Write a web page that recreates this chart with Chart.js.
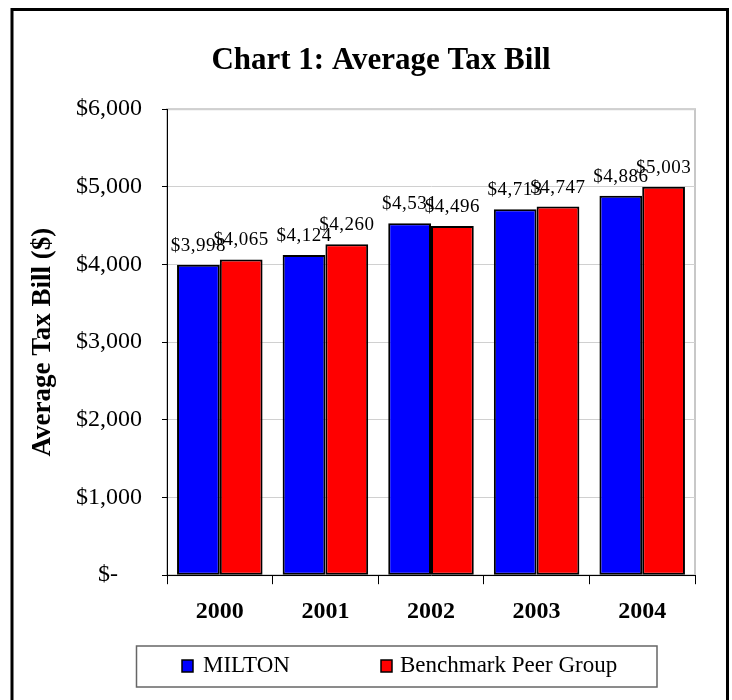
<!DOCTYPE html>
<html>
<head>
<meta charset="utf-8">
<script src="https://cdn.jsdelivr.net/npm/chart.js@4"></script>
<style>
  body { margin: 0; background: #fff; }
  #wrap { position: absolute; left: 0; top: 0; width: 732px; height: 700px; }
</style>
</head>
<body>
<div id="wrap"><canvas id="taxChart" width="732" height="700"></canvas></div>
<script>
const years = ['2000', '2001', '2002', '2003', '2004'];
const miltonValues = [3998, 4124, 4531, 4713, 4886];
const peerValues = [4065, 4260, 4496, 4747, 5003];
const yTicks = [0, 1000, 2000, 3000, 4000, 5000, 6000];

const serif = '"Liberation Serif", "Times New Roman", serif';

function money(v) {
  return '$' + v.toLocaleString('en-US');
}

// labels above every bar
const barLabels = {
  id: 'barLabels',
  afterDatasetsDraw(chart) {
    const ctx = chart.ctx;
    ctx.save();
    ctx.font = '19px ' + serif;
    ctx.fillStyle = '#000';
    ctx.textAlign = 'center';
    ctx.textBaseline = 'alphabetic';
    ctx.letterSpacing = '0.5px';
    chart.data.datasets.forEach(function (ds, i) {
      chart.getDatasetMeta(i).data.forEach(function (bar, j) {
        ctx.fillText(money(ds.data[j]), bar.x, bar.y - 14);
      });
    });
    ctx.restore();
  }
};

// gray frame round the plot, boxed legend and the outer border
const frame = {
  id: 'frame',
  beforeDraw(chart) {
    const a = chart.chartArea;
    const ctx = chart.ctx;
    ctx.save();
    ctx.fillStyle = '#fff';
    ctx.fillRect(0, 0, chart.width, chart.height);
    ctx.strokeStyle = '#c8c8c8';
    ctx.lineWidth = 2;
    ctx.strokeRect(a.left, a.top, a.right - a.left, a.bottom - a.top);
    ctx.restore();
  },
  afterDraw(chart) {
    const ctx = chart.ctx;
    ctx.save();
    // legend box
    ctx.strokeStyle = '#666';
    ctx.lineWidth = 1.5;
    ctx.strokeRect(136.5, 646, 520.5, 41);
    const items = [
      { x: 182, tx: 203 },
      { x: 381, tx: 400 }
    ];
    ctx.font = '23px ' + serif;
    ctx.textBaseline = 'middle';
    chart.data.datasets.forEach(function (ds, i) {
      const it = items[i];
      ctx.fillStyle = ds.backgroundColor;
      ctx.fillRect(it.x, 660, 11, 12);
      ctx.strokeStyle = '#000';
      ctx.lineWidth = 1.5;
      ctx.strokeRect(it.x, 660, 11, 12);
      ctx.fillStyle = '#000';
      ctx.fillText(ds.label, it.tx, 666);
    });
    // outer border
    ctx.strokeStyle = '#000';
    ctx.lineWidth = 3;
    ctx.strokeRect(12, 9.5, 715.5, 720);
    ctx.restore();
  }
};

new Chart(document.getElementById('taxChart'), {
  type: 'bar',
  data: {
    labels: years,
    datasets: [{
      label: 'MILTON',
      data: miltonValues,
      backgroundColor: '#0000ff',
      borderColor: '#000',
      borderWidth: 2,
      borderSkipped: false
    }, {
      label: 'Benchmark Peer Group',
      data: peerValues,
      backgroundColor: '#ff0000',
      borderColor: '#000',
      borderWidth: 2,
      borderSkipped: false
    }]
  },
  options: {
    responsive: false,
    animation: false,
    // wide left padding pushes the title right like the original; y title pulled back with negative padding
    layout: { padding: { left: 67, right: 37, top: 20, bottom: 61 } },
    datasets: { bar: { categoryPercentage: 0.81, barPercentage: 1.0 } },
    plugins: {
      legend: { display: false },
      tooltip: { enabled: false },
      title: {
        display: true,
        text: 'Chart 1: Average Tax Bill',
        color: '#000',
        font: { family: serif, size: 31, weight: 'bold' },
        padding: { top: 22, bottom: 30 }
      }
    },
    scales: {
      x: {
        grid: { display: true, drawOnChartArea: false, drawTicks: true, tickLength: 9, color: '#000' },
        border: { color: '#000', width: 1 },
        ticks: { color: '#000', padding: 13, font: { family: serif, size: 24, weight: 'bold' } }
      },
      y: {
        min: 0,
        max: 6000,
        afterBuildTicks(scale) {
          scale.ticks = yTicks.map(v => ({ value: v }));
        },
        afterFit(scale) {
          scale.width = 100;
        },
        grid: { color: '#d0d0d0', tickColor: '#000', tickLength: 5 },
        border: { color: '#000', width: 1 },
        ticks: {
          color: '#000',
          padding: 20,
          font: { family: serif, size: 24 },
          callback: v => v === 0 ? '$-    ' : money(v)
        },
        title: {
          display: true,
          text: 'Average Tax Bill ($)',
          color: '#000',
          padding: { top: -40, bottom: 0 },
          font: { family: serif, size: 27, weight: 'bold' }
        }
      }
    }
  },
  plugins: [frame, barLabels]
});
</script>
</body>
</html>
